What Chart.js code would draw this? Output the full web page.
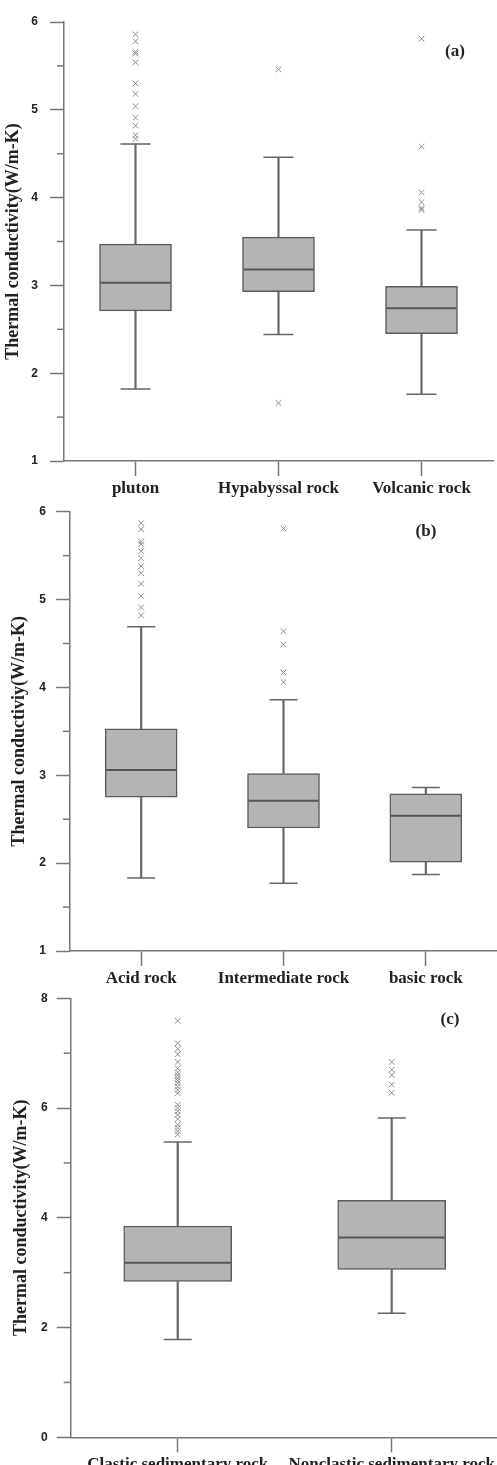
<!DOCTYPE html>
<html>
<head>
<meta charset="utf-8">
<script src="https://cdn.jsdelivr.net/npm/chart.js@4.4.0/dist/chart.umd.min.js"></script>
<style>
  html, body { margin: 0; padding: 0; background: #fff; overflow: hidden; }
  body { width: 497px; height: 1465px; position: relative; }
  canvas { position: absolute; left: 0; }
  #graficoA { top: 0; }
  #graficoB { top: 490px; }
  #graficoC { top: 980px; }
</style>
</head>
<body>
<canvas id="graficoA" width="497" height="505"></canvas>
<canvas id="graficoB" width="497" height="505"></canvas>
<canvas id="graficoC" width="510" height="500"></canvas>
<script>
// (a) rock type by emplacement
const catsA = ["pluton", "Hypabyssal rock", "Volcanic rock"];
const lowA = [1.82, 2.44, 1.76];
const q1A = [2.71, 2.93, 2.45];
const medA = [3.03, 3.18, 2.74];
const q3A = [3.47, 3.55, 2.99];
const highA = [4.61, 4.46, 3.63];
const outA = [
  [5.86, 5.78, 5.66, 5.64, 5.54, 5.30, 5.18, 5.04, 4.91, 4.82, 4.71, 4.67],
  [5.46, 1.66],
  [5.81, 4.58, 4.06, 3.95, 3.88, 3.86],
];

// (b) rock type by silica content
const catsB = ["Acid rock", "Intermediate rock", "basic rock"];
const lowB = [1.83, 1.77, 1.87];
const q1B = [2.75, 2.40, 2.01];
const medB = [3.06, 2.71, 2.54];
const q3B = [3.53, 3.02, 2.79];
const highB = [4.69, 3.86, 2.86];
const outB = [
  [5.87, 5.80, 5.66, 5.63, 5.55, 5.47, 5.38, 5.30, 5.18, 5.04, 4.91, 4.82],
  [5.81, 4.64, 4.49, 4.17, 4.06],
  [],
];

// (c) sedimentary rocks
const catsC = ["Clastic sedimentary rock", "Nonclastic sedimentary rock"];
const lowC = [1.78, 2.26];
const q1C = [2.84, 3.06];
const medC = [3.18, 3.64];
const q3C = [3.85, 4.32];
const highC = [5.38, 5.82];
const outC = [
  [7.59, 7.18, 7.08, 6.98, 6.84, 6.72, 6.65, 6.60, 6.55, 6.50, 6.45, 6.39,
   6.33, 6.27, 6.06, 6.00, 5.94, 5.88, 5.80, 5.70, 5.64, 5.58, 5.52],
  [6.84, 6.70, 6.60, 6.43, 6.28],
];

const corEixo = "#777";
const corTexto = "#222";

// minor ticks on the y axis + panel tag
const extras = {
  id: "extras",
  afterDraw(chart, args, opts) {
    const c = chart.ctx;
    const y = chart.scales.y;
    const left = chart.chartArea.left;
    c.save();
    c.strokeStyle = corEixo;
    c.lineWidth = 1.5;
    y.ticks.forEach((t) => {
      if (t.value % opts.major !== 0) {
        const py = y.getPixelForValue(t.value);
        c.beginPath();
        c.moveTo(left - 7, py);
        c.lineTo(left, py);
        c.stroke();
      }
    });
    c.font = 'bold 17px "Liberation Serif"';
    c.fillStyle = corTexto;
    c.textAlign = "center";
    c.textBaseline = "middle";
    c.fillText(opts.tag, opts.x, opts.y);
    c.restore();
  },
};

function criarBoxplot(id, p) {
  const cats = p.cats;
  const medianas = cats.map((c, i) => ({ x: c, y: p.med[i] }));
  const bigodes = [];
  cats.forEach((c, i) => {
    bigodes.push({ x: c, y: p.low[i] }, { x: c, y: p.high[i] });
  });
  const pontos = [];
  p.out.forEach((lista, i) => lista.forEach((v) => pontos.push({ x: cats[i], y: v })));

  new Chart(document.getElementById(id), {
    type: "bar",
    data: {
      labels: cats,
      datasets: [
        {
          type: "line", data: medianas, showLine: false, order: 0,
          pointStyle: "line", pointRadius: p.boxW / 2 - 1,
          pointBorderColor: "#555", pointBorderWidth: 2,
        },
        {
          type: "line", data: bigodes, showLine: false, order: 1,
          pointStyle: "line", pointRadius: p.capR,
          pointBorderColor: "#666", pointBorderWidth: 1.5,
        },
        {
          type: "line", data: pontos, showLine: false, order: 2,
          pointStyle: "crossRot", pointRadius: 4,
          pointBorderColor: "#8c8c8c", pointBorderWidth: 1,
        },
        {
          data: cats.map((c, i) => [p.q1[i], p.q3[i]]), order: 3,
          backgroundColor: "#b4b4b4", borderColor: "#5c5c5c",
          borderWidth: 1.5, borderSkipped: false,
          barThickness: p.boxW, grouped: false,
        },
        {
          data: cats.map((c, i) => [p.low[i], p.q1[i]]), order: 4,
          backgroundColor: "#666", barThickness: 1.5, grouped: false,
        },
        {
          data: cats.map((c, i) => [p.q3[i], p.high[i]]), order: 5,
          backgroundColor: "#666", barThickness: 1.5, grouped: false,
        },
      ],
    },
    options: {
      responsive: false,
      animation: false,
      events: [],
      layout: { autoPadding: false, padding: { top: p.top, right: p.right, left: 0, bottom: 0 } },
      scales: {
        x: {
          afterFit(s) { s.height = p.xh; s.paddingLeft = 0; s.paddingRight = 0; },
          border: { color: corEixo, width: 1.5 },
          grid: { offset: false, drawOnChartArea: false, tickLength: 15, tickWidth: 1.5, tickColor: corEixo },
          ticks: {
            padding: 2, color: corTexto, autoSkip: false, maxRotation: 0, minRotation: 0,
            font: { family: "Liberation Serif", size: 17, weight: "bold" },
          },
        },
        y: {
          min: p.min,
          max: p.max,
          afterFit(s) { s.width = p.left; s.paddingTop = 0; s.paddingBottom = 0; },
          border: { color: corEixo, width: 1.5 },
          grid: {
            drawOnChartArea: false, tickLength: 14, tickWidth: 1.5,
            tickColor: (c) => (c.tick && c.tick.value % p.major === 0 ? corEixo : "rgba(0,0,0,0)"),
          },
          ticks: {
            stepSize: p.step, padding: p.tickPad, color: corTexto,
            font: { family: "Liberation Sans", size: 12, weight: "bold" },
            callback: (v) => (v % p.major === 0 ? v : ""),
          },
          title: {
            display: true, text: p.title, color: corTexto,
            padding: { top: p.titlePad, bottom: 0 },
            font: { family: "Liberation Serif", size: 18, weight: "bold" },
          },
        },
      },
      plugins: {
        legend: { display: false },
        tooltip: { enabled: false },
        extras: { major: p.major, tag: p.tag, x: p.tagX, y: p.tagY },
      },
    },
    plugins: [extras],
  });
}

document.addEventListener("DOMContentLoaded", () => {
  criarBoxplot("graficoA", {
    cats: catsA, low: lowA, q1: q1A, med: medA, q3: q3A, high: highA, out: outA,
    min: 1, max: 6, step: 0.5, major: 1,
    title: "Thermal conductivity(W/m-K)", titlePad: 3, tickPad: 12,
    left: 64, top: 22, right: 4, xh: 44, boxW: 72, capR: 15,
    tag: "(a)", tagX: 455, tagY: 52,
  });
  criarBoxplot("graficoB", {
    cats: catsB, low: lowB, q1: q1B, med: medB, q3: q3B, high: highB, out: outB,
    min: 1, max: 6, step: 0.5, major: 1,
    title: "Thermal conductiviy(W/m-K)", titlePad: 9, tickPad: 10,
    left: 70, top: 21.7, right: 0, xh: 44, boxW: 72, capR: 14,
    tag: "(b)", tagX: 426, tagY: 42,
  });
  criarBoxplot("graficoC", {
    cats: catsC, low: lowC, q1: q1C, med: medC, q3: q3C, high: highC, out: outC,
    min: 0, max: 8, step: 1, major: 2,
    title: "Thermal conductivity(W/m-K)", titlePad: 10.5, tickPad: 9,
    left: 70.7, top: 18.3, right: 11.3, xh: 42.7, boxW: 108, capR: 14,
    tag: "(c)", tagX: 450, tagY: 40,
  });
});
</script>
</body>
</html>
